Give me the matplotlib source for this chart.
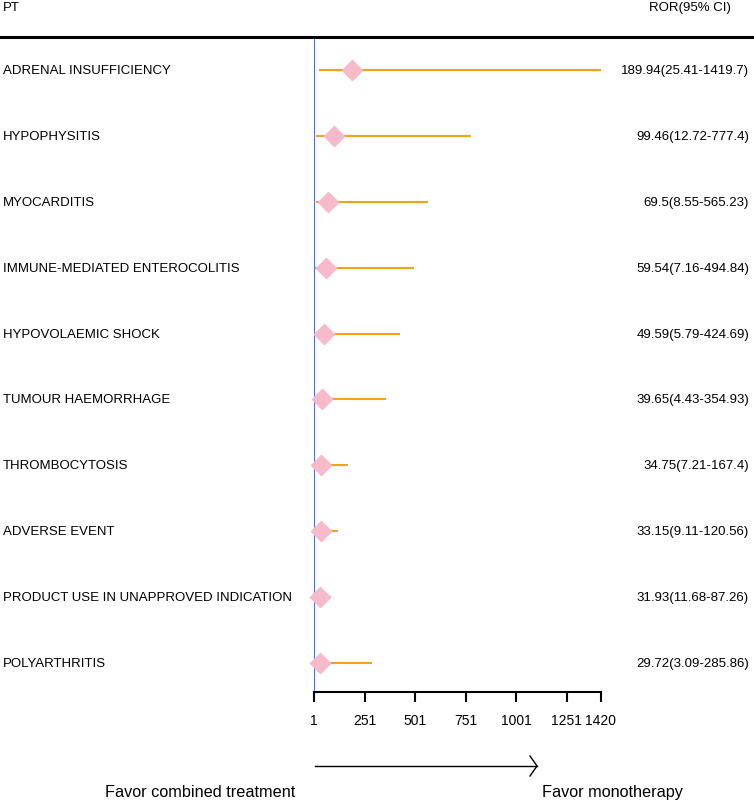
import numpy as np
import matplotlib.pyplot as plt
from matplotlib.transforms import blended_transform_factory

plt.rcParams['font.family'] = ['Liberation Sans', 'DejaVu Sans']

pts = ["ADRENAL INSUFFICIENCY", "HYPOPHYSITIS", "MYOCARDITIS",
       "IMMUNE-MEDIATED ENTEROCOLITIS", "HYPOVOLAEMIC SHOCK",
       "TUMOUR HAEMORRHAGE", "THROMBOCYTOSIS", "ADVERSE EVENT",
       "PRODUCT USE IN UNAPPROVED INDICATION", "POLYARTHRITIS"]
ror = [189.94, 99.46, 69.5, 59.54, 49.59, 39.65, 34.75, 33.15, 31.93, 29.72]
ci_low = [25.41, 12.72, 8.55, 7.16, 5.79, 4.43, 7.21, 9.11, 11.68, 3.09]
ci_high = [1419.7, 777.4, 565.23, 494.84, 424.69, 354.93, 167.4, 120.56, 87.26, 285.86]
xticks = [1, 251, 501, 751, 1001, 1251, 1420]

W, H = 754, 803
fig = plt.figure(figsize=(W / 100, H / 100), dpi=100)
# axes box in pixels: x 314..601, y 38..693 (from top)
ax = fig.add_axes([314 / W, 1 - 693 / H, (601 - 314) / W, (693 - 38) / H])

y = np.arange(len(pts))
ax.hlines(y, ci_low, ci_high, color='#F5A315', lw=1.5, zorder=2)
ax.scatter(ror, y, marker='D', s=105, color='#F7BACB', zorder=3, clip_on=False)
ax.axvline(1, color='#3050D0', lw=1.2, zorder=1)

ax.set_xlim(1, 1420)
ax.set_ylim(9.44, -0.5)
ax.set_xticks(xticks)
ax.set_xticklabels([str(t) for t in xticks], fontsize=10)
ax.set_yticks([])
for s in ['top', 'right', 'left']:
    ax.spines[s].set_visible(False)
ax.spines['bottom'].set_linewidth(1.5)
ax.tick_params(axis='x', length=7, width=1.5, pad=8)

tr = blended_transform_factory(fig.transFigure, ax.transData)
for i in range(len(pts)):
    ax.text(3 / W, i, pts[i], transform=tr, ha='left', va='center', fontsize=9.5)
    ax.text(749 / W, i, f"{ror[i]}({ci_low[i]}-{ci_high[i]})", transform=tr,
            ha='right', va='center', fontsize=9.5)

# header
fig.text(3 / W, 1 - 8 / H, "PT", ha='left', va='center', fontsize=9.5)
fig.text(731 / W, 1 - 8 / H, "ROR(95% CI)", ha='right', va='center', fontsize=9.5)
fig.add_artist(plt.Line2D([0, 1], [1 - 38 / H, 1 - 38 / H], color='black', lw=2.2))

# arrow and favour labels
fig.add_artist(plt.Line2D([315 / W, 537 / W], [1 - 767 / H, 1 - 767 / H], color='black', lw=1))
fig.add_artist(plt.Line2D([530 / W, 537 / W, 530 / W],
                          [1 - 757 / H, 1 - 767 / H, 1 - 777 / H], color='black', lw=1))
fig.text(200 / W, 1 - 793 / H, "Favor combined treatment", ha='center', va='center', fontsize=11.7)
fig.text(612 / W, 1 - 793 / H, "Favor monotherapy", ha='center', va='center', fontsize=11.7)

fig.savefig("out.png", dpi=100)
